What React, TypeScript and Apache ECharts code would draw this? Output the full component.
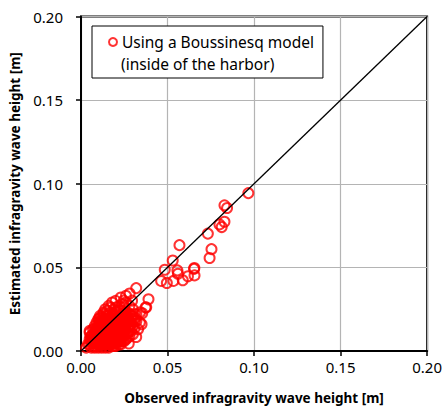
import React, { useEffect, useRef } from "react";
import * as echarts from "echarts";

const axisTicks = [0, 0.05, 0.1, 0.15, 0.2];
const seriesName = "Using a Boussinesq model";
const seriesNameLine2 = "(inside of the harbor)";
const xTitle = "Observed infragravity wave height [m]";
const yTitle = "Estimated infragravity wave height [m]";

// [observed, estimated] pairs, upper scattered points
const upperPoints: [number, number][] = [
  [0.0967, 0.0944], [0.0829, 0.0871], [0.0844, 0.0855], [0.08, 0.0757],
  [0.0829, 0.0773], [0.0813, 0.0741], [0.0733, 0.0702], [0.0754, 0.0609],
  [0.0743, 0.0556], [0.0569, 0.0633], [0.053, 0.0541], [0.0484, 0.0486],
  [0.0557, 0.0482], [0.056, 0.0462], [0.0655, 0.0496], [0.0656, 0.0452],
  [0.0618, 0.0447], [0.0463, 0.0419], [0.0496, 0.0407], [0.0534, 0.0419],
  [0.0588, 0.0423], [0.0653, 0.0491],
];

// middle points
const middlePoints: [number, number][] = [
  [0.0319, 0.0376], [0.0281, 0.0344], [0.0247, 0.0301], [0.0295, 0.0301],
  [0.039, 0.0309], [0.0377, 0.0261], [0.0342, 0.0232], [0.0314, 0.0196],
  [0.031, 0.0138], [0.0319, 0.0084], [0.0276, 0.0045], [0.0247, 0.0104],
  [0.0354, 0.0226], [0.0373, 0.026],
];

// dense cluster near the origin
const clusterPoints: [number, number][] = [
  [0.004, 0.004], [0.005, 0.007], [0.005, 0.011], [0.006, 0.002], [0.006, 0.005],
  [0.006, 0.009], [0.007, 0.003], [0.007, 0.007], [0.007, 0.013], [0.008, 0.002],
  [0.008, 0.005], [0.008, 0.01], [0.008, 0.015], [0.009, 0.003], [0.009, 0.008],
  [0.009, 0.012], [0.009, 0.017], [0.01, 0.002], [0.01, 0.006], [0.01, 0.01],
  [0.01, 0.014], [0.01, 0.019], [0.011, 0.004], [0.011, 0.008], [0.011, 0.012],
  [0.011, 0.016], [0.011, 0.021], [0.012, 0.002], [0.012, 0.006], [0.012, 0.01],
  [0.012, 0.014], [0.012, 0.018], [0.013, 0.004], [0.013, 0.008], [0.013, 0.012],
  [0.013, 0.016], [0.013, 0.022], [0.014, 0.002], [0.014, 0.006], [0.014, 0.01],
  [0.014, 0.014], [0.014, 0.019], [0.014, 0.025], [0.015, 0.004], [0.015, 0.008],
  [0.015, 0.012], [0.015, 0.016], [0.015, 0.021], [0.016, 0.002], [0.016, 0.006],
  [0.016, 0.01], [0.016, 0.014], [0.016, 0.018], [0.016, 0.027], [0.017, 0.004],
  [0.017, 0.008], [0.017, 0.012], [0.017, 0.016], [0.017, 0.023], [0.018, 0.003],
  [0.018, 0.006], [0.018, 0.01], [0.018, 0.014], [0.018, 0.019], [0.018, 0.029],
  [0.019, 0.005], [0.019, 0.008], [0.019, 0.012], [0.019, 0.016], [0.019, 0.021],
  [0.019, 0.025], [0.02, 0.003], [0.02, 0.007], [0.02, 0.011], [0.02, 0.015],
  [0.02, 0.019], [0.02, 0.03], [0.021, 0.005], [0.021, 0.009], [0.021, 0.013],
  [0.021, 0.017], [0.021, 0.023], [0.022, 0.004], [0.022, 0.008], [0.022, 0.012],
  [0.022, 0.02], [0.022, 0.027], [0.023, 0.006], [0.023, 0.01], [0.023, 0.015],
  [0.023, 0.024], [0.023, 0.032], [0.024, 0.009], [0.024, 0.013], [0.024, 0.018],
  [0.024, 0.022], [0.025, 0.006], [0.025, 0.016], [0.025, 0.026], [0.026, 0.011],
  [0.026, 0.02], [0.026, 0.033], [0.027, 0.008], [0.027, 0.014], [0.027, 0.023],
  [0.028, 0.012], [0.028, 0.018], [0.028, 0.027], [0.029, 0.016], [0.029, 0.021],
  [0.03, 0.01], [0.03, 0.025], [0.031, 0.018], [0.032, 0.022], [0.033, 0.013],
  [0.034, 0.017], [0.035, 0.016], [0.0105, 0.0195], [0.005, 0.012], [0.013, 0.023],
];

// further cluster points filling the dense core
const clusterCorePoints: [number, number][] = [
  [0.006, 0.007], [0.007, 0.01], [0.008, 0.007], [0.008, 0.012], [0.009, 0.005],
  [0.009, 0.01], [0.009, 0.014], [0.01, 0.004], [0.01, 0.008], [0.01, 0.012],
  [0.01, 0.016], [0.011, 0.006], [0.011, 0.01], [0.011, 0.014], [0.011, 0.018],
  [0.012, 0.004], [0.012, 0.008], [0.012, 0.012], [0.012, 0.016], [0.012, 0.02],
  [0.013, 0.006], [0.013, 0.01], [0.013, 0.014], [0.013, 0.018], [0.014, 0.004],
  [0.014, 0.008], [0.014, 0.012], [0.014, 0.016], [0.014, 0.021], [0.015, 0.006],
  [0.015, 0.01], [0.015, 0.014], [0.015, 0.018], [0.015, 0.024], [0.016, 0.004],
  [0.016, 0.008], [0.016, 0.012], [0.016, 0.016], [0.016, 0.021], [0.017, 0.006],
  [0.017, 0.01], [0.017, 0.014], [0.017, 0.019], [0.017, 0.026], [0.018, 0.008],
  [0.018, 0.012], [0.018, 0.016], [0.018, 0.022], [0.019, 0.003], [0.019, 0.01],
  [0.019, 0.014], [0.019, 0.018], [0.02, 0.005], [0.02, 0.009], [0.02, 0.013],
  [0.02, 0.017], [0.02, 0.022], [0.02, 0.026], [0.021, 0.007], [0.021, 0.011],
  [0.021, 0.015], [0.021, 0.02], [0.022, 0.006], [0.022, 0.01], [0.022, 0.014],
  [0.022, 0.017], [0.022, 0.024], [0.023, 0.004], [0.023, 0.008], [0.023, 0.012],
  [0.023, 0.018], [0.023, 0.021], [0.024, 0.006], [0.024, 0.011], [0.024, 0.015],
  [0.024, 0.02], [0.024, 0.028], [0.025, 0.009], [0.025, 0.012], [0.025, 0.019],
  [0.025, 0.023], [0.026, 0.007], [0.026, 0.015], [0.026, 0.017], [0.026, 0.023],
  [0.026, 0.029], [0.027, 0.011], [0.027, 0.019], [0.028, 0.009], [0.028, 0.015],
  [0.028, 0.022], [0.029, 0.012], [0.029, 0.019], [0.03, 0.015], [0.03, 0.021],
  [0.031, 0.022], [0.032, 0.018], [0.007, 0.005], [0.005, 0.004], [0.003, 0.002],
];

// in-between points of the solid core
const clusterFillPoints: [number, number][] = [
  [0.0075, 0.0045], [0.0075, 0.0085], [0.0085, 0.0065], [0.0085, 0.0105], [0.0095, 0.0045],
  [0.0095, 0.0085], [0.0095, 0.0125], [0.0105, 0.0065], [0.0105, 0.0105], [0.0105, 0.0145],
  [0.0115, 0.0045], [0.0115, 0.0085], [0.0115, 0.0125], [0.0115, 0.0165], [0.0125, 0.0065],
  [0.0125, 0.0105], [0.0125, 0.0145], [0.0135, 0.0045], [0.0135, 0.0085], [0.0135, 0.0125],
  [0.0135, 0.0165], [0.0145, 0.0065], [0.0145, 0.0105], [0.0145, 0.0145], [0.0145, 0.0185],
  [0.0155, 0.0045], [0.0155, 0.0085], [0.0155, 0.0125], [0.0155, 0.0165], [0.0165, 0.0065],
  [0.0165, 0.0105], [0.0165, 0.0145], [0.0165, 0.0195], [0.0175, 0.0045], [0.0175, 0.0085],
  [0.0175, 0.0125], [0.0175, 0.0165], [0.0185, 0.0065], [0.0185, 0.0105], [0.0185, 0.0145],
  [0.0185, 0.0185], [0.0195, 0.0045], [0.0195, 0.0085], [0.0195, 0.0125], [0.0195, 0.0165],
  [0.0205, 0.0065], [0.0205, 0.0105], [0.0205, 0.0145], [0.0215, 0.0085], [0.0215, 0.0125],
  [0.0215, 0.0185], [0.0225, 0.0065], [0.0225, 0.0105], [0.0225, 0.0155], [0.0235, 0.0135],
  [0.0235, 0.0175], [0.0245, 0.0155], [0.0255, 0.0135], [0.0065, 0.0055], [0.0055, 0.0085],
];

const oneToOne: [number, number][] = [[0, 0], [0.2, 0.2]];

export default function App() {
  const ref = useRef<HTMLDivElement>(null);
  useEffect(() => {
    if (!ref.current) return;
    const chart = echarts.init(ref.current, undefined, {
      renderer: "svg",
      width: 445,
      height: 410,
    });
    const font = "'Noto Sans', sans-serif";
    const axisCommon = {
      type: "value" as const,
      min: axisTicks[0],
      max: axisTicks[axisTicks.length - 1],
      interval: axisTicks[1] - axisTicks[0],
      axisLine: { show: true, onZero: false, lineStyle: { color: "#000", width: 2 } },
      axisTick: { show: true, inside: false, length: 5, lineStyle: { color: "#000", width: 1.5 } },
      splitLine: { show: true, lineStyle: { color: "#b4b4b4", width: 1.2 } },
      nameLocation: "middle" as const,
      nameTextStyle: { fontFamily: font, fontWeight: "bold" as const, fontSize: 13.5, color: "#000" },
    };
    chart.setOption({
      animation: false,
      backgroundColor: "#fff",
      grid: {
        left: 81,
        right: 14.5,
        top: 16.5,
        bottom: 54.5,
        show: true,
        borderColor: "#000",
        borderWidth: 2,
        backgroundColor: "transparent",
      },
      xAxis: {
        ...axisCommon,
        name: xTitle,
        nameGap: 40,
        axisLabel: {
          margin: 8,
          fontFamily: font,
          fontSize: 15,
          color: "#000",
          formatter: (v: number) => v.toFixed(2),
        },
      },
      yAxis: {
        ...axisCommon,
        name: yTitle,
        nameGap: 52,
        axisLabel: {
          margin: 18,
          fontFamily: font,
          fontSize: 15,
          color: "#000",
          formatter: (v: number) => v.toFixed(2),
        },
      },
      legend: {
        data: [seriesName],
        left: 92,
        top: 26,
        orient: "vertical",
        padding: [8, 9, 28, 16],
        itemGap: 0,
        itemWidth: 8,
        itemHeight: 8,
        backgroundColor: "#fff",
        borderColor: "#000",
        borderWidth: 1,
        textStyle: { fontFamily: font, fontSize: 15.5, color: "#000" },
      },
      graphic: [
        {
          type: "text",
          x: 121,
          y: 63.5,
          z: 100,
          style: {
            text: seriesNameLine2,
            fontFamily: font,
            fontSize: 15.5,
            fill: "#000",
            verticalAlign: "middle",
          },
        },
      ],
      series: [
        {
          name: seriesName,
          type: "scatter",
          symbol: "circle",
          symbolSize: 10,
          itemStyle: { color: "rgba(255,255,255,0)", borderColor: "#ff0000", borderWidth: 2 },
          data: [
            ...clusterPoints,
            ...clusterCorePoints,
            ...clusterFillPoints,
            ...middlePoints,
            ...upperPoints,
          ],
          z: 3,
        },
        {
          name: "1:1",
          type: "line",
          data: oneToOne,
          symbol: "none",
          lineStyle: { color: "#000", width: 1.3 },
          z: 4,
          silent: true,
        },
      ],
    });
    return () => chart.dispose();
  }, []);
  return (
    <div
      ref={ref}
      style={{ position: "fixed", left: 0, top: 0, width: 445, height: 410 }}
    />
  );
}
